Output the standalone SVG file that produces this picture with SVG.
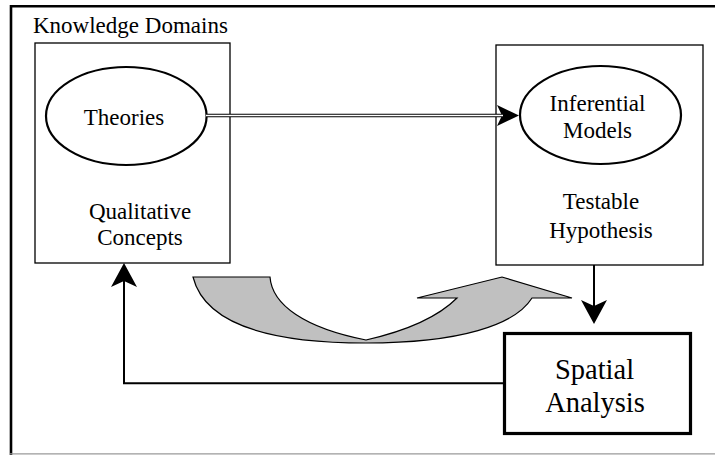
<svg xmlns="http://www.w3.org/2000/svg" width="715" height="455" viewBox="0 0 715 455">
<style>
text{font-family:"Liberation Serif","Times New Roman",serif;fill:#000;text-anchor:middle}
.t{font-size:23px}
.big{font-size:28.5px}
.box{fill:#fff;stroke:#000;stroke-width:1.3}
.ell{fill:#fff;stroke:#000;stroke-width:2.2}
.conn{fill:none;stroke:#000;stroke-width:2}
</style>
<defs>
<marker id="ah" markerUnits="userSpaceOnUse" viewBox="0 0 24 26" markerWidth="24" markerHeight="26" refX="6" refY="13" orient="auto">
<path d="M0,0 L24,13 L0,26 L6,13 Z" fill="#000"/>
</marker>
<marker id="ah2" markerUnits="userSpaceOnUse" viewBox="0 0 22 21" markerWidth="22" markerHeight="21" refX="5" refY="10.5" orient="auto">
<path d="M0,0 L22,10.5 L0,21 L5,10.5 Z" fill="#000"/>
</marker>
</defs>
<rect width="715" height="455" fill="#fff"/>
<g id="frame">
<path d="M11,455 V6.2 H715" fill="none" stroke="#000" stroke-width="2.6"/>
<line x1="10" y1="453.8" x2="715" y2="453.8" stroke="#9a9a9a" stroke-width="1.2"/>
<text x="33" y="33" class="t" style="text-anchor:start">Knowledge Domains</text>
</g>
<g id="knowledge-box">
<rect x="35" y="43" width="195" height="220" class="box"/>
<text x="140" y="219" class="t">Qualitative</text>
<text x="140" y="245" class="t">Concepts</text>
</g>
<g id="theories">
<ellipse cx="126.3" cy="116" rx="80.3" ry="49" class="ell"/>
<text x="124" y="125" class="t">Theories</text>
</g>
<g id="hypothesis-box">
<rect x="496" y="45" width="207" height="220" class="box"/>
<text x="601" y="208.5" class="t">Testable</text>
<text x="601" y="238" class="t">Hypothesis</text>
</g>
<g id="inferential">
<ellipse cx="600.5" cy="115" rx="80.5" ry="49" class="ell"/>
<text x="597.5" y="111" class="t">Inferential</text>
<text x="597.5" y="137.5" class="t">Models</text>
</g>
<g id="spatial">
<rect x="504.5" y="333.5" width="186" height="100" fill="#fff" stroke="#000" stroke-width="3.2"/>
<text x="594.5" y="378.5" class="big">Spatial</text>
<text x="595" y="411.5" class="big">Analysis</text>
</g>
<g id="connectors">
<line x1="207" y1="115.5" x2="502" y2="115.5" stroke="#000" stroke-width="3.6" marker-end="url(#ah2)"/>
<line x1="206" y1="115.5" x2="503" y2="115.5" stroke="#fff" stroke-width="1.3"/>
<line x1="594" y1="265" x2="594" y2="306" class="conn" marker-end="url(#ah)"/>
<path d="M503,383.3 H124 V281" class="conn" marker-end="url(#ah)"/>
<path id="curved-arrow" d="M193,277 L270,277 C272,305 305,328 366,340 C410,330 440,315 457,298 L417,298 L502,277 L572,298 L532,298 C515,325 460,343 366,343 C270,343 205,325 193,277 Z" fill="#c0c0c0" stroke="#000" stroke-width="1.2"/>
</g>
</svg>
